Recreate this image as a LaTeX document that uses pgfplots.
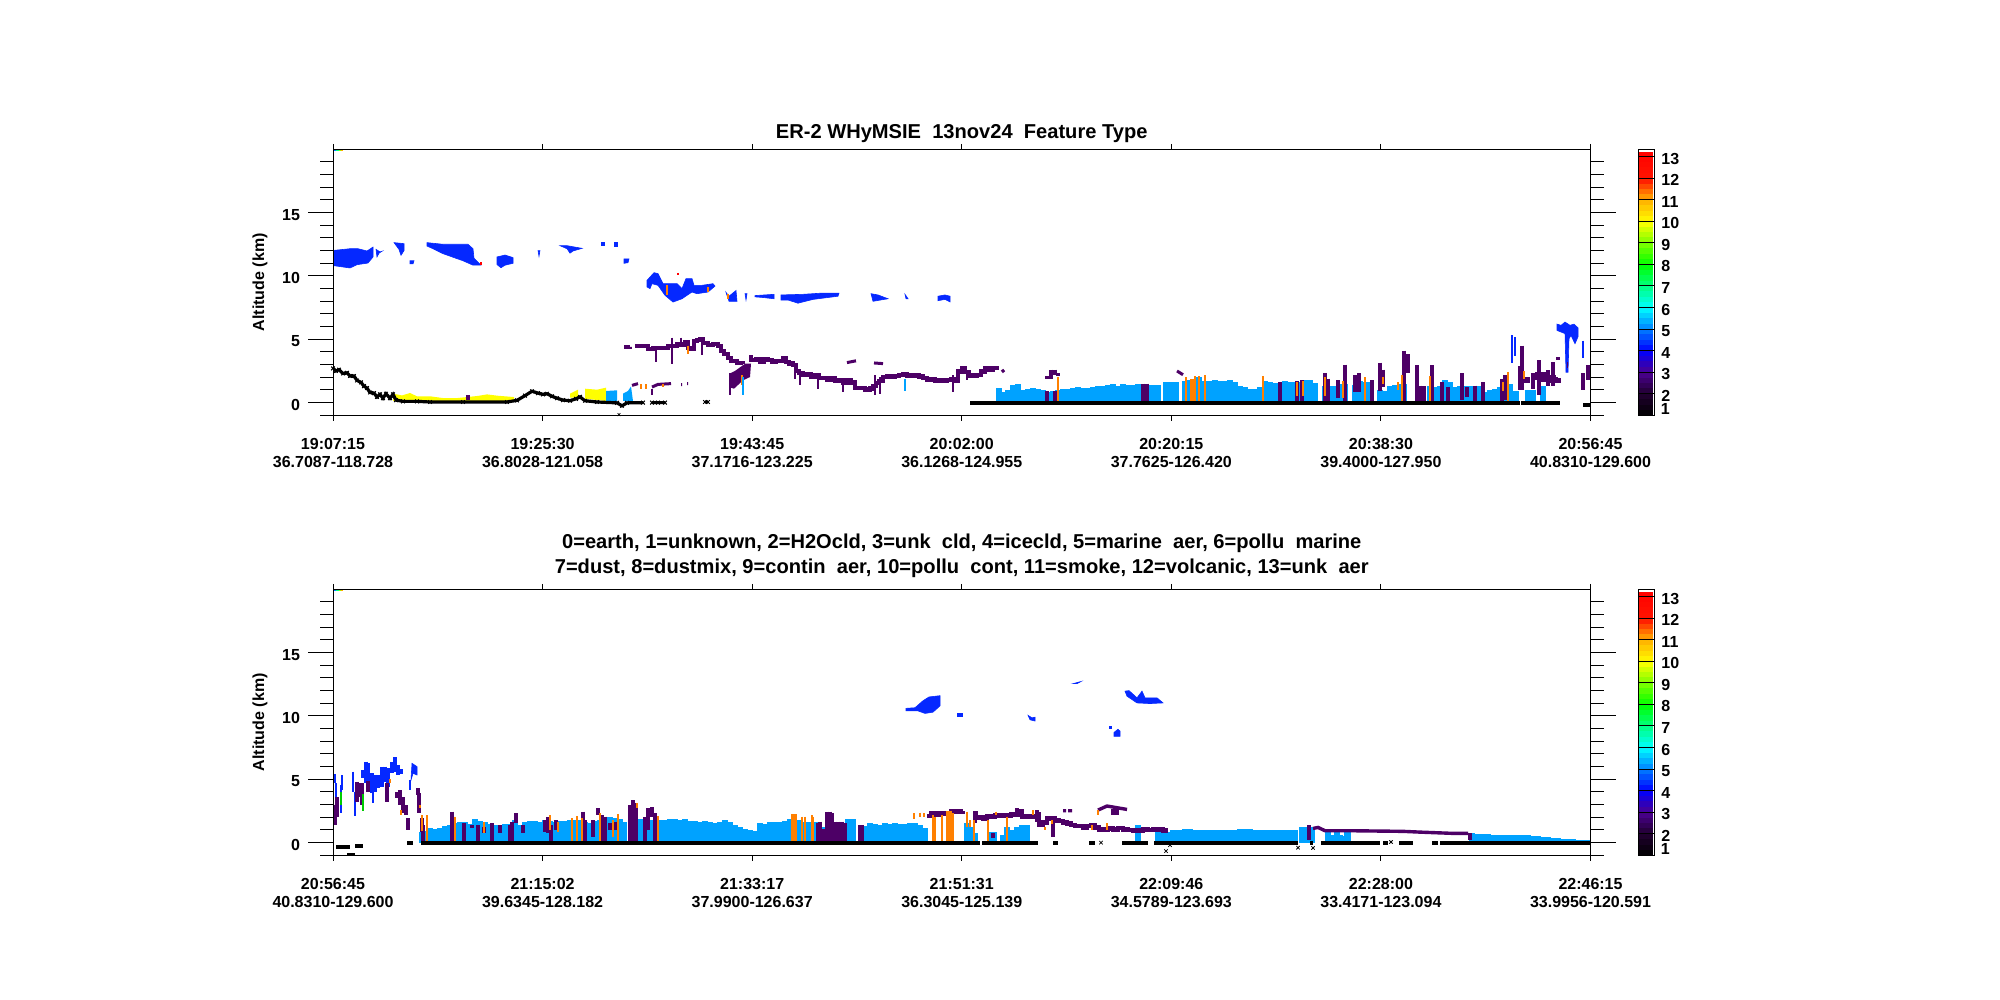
\documentclass[border=0pt]{standalone}
\usepackage{fontspec}
\setmainfont{Liberation Sans}
\usepackage{pgfplots}
\pgfplotsset{compat=1.18}

\definecolor{ice}{RGB}{5,40,255}
\definecolor{unk}{RGB}{77,0,102}
\definecolor{marine}{RGB}{0,162,255}
\definecolor{smoke}{RGB}{255,128,0}
\definecolor{pcont}{RGB}{255,255,0}
\newcommand{\lab}{\bfseries\fontsize{8}{9}\selectfont}

% 1 image pixel = 0.5pt, x is the profile index (0..1257.5), y is km
\pgfplotsset{
  colormap={ft}{rgb255(1cm)=(0,0,0); rgb255(2cm)=(34,0,50); rgb255(3cm)=(75,0,145);
    rgb255(4cm)=(0,0,255); rgb255(5cm)=(0,128,255); rgb255(6cm)=(0,255,255);
    rgb255(7cm)=(0,255,128); rgb255(8cm)=(0,255,0); rgb255(9cm)=(128,255,0);
    rgb255(10cm)=(255,255,0); rgb255(11cm)=(255,176,0); rgb255(12cm)=(255,20,0); rgb255(13.3cm)=(255,0,0)},
  panel/.style={
    width=628.75pt, height=133pt, scale only axis,
    xmin=0, xmax=1257.5, ymin=-1, ymax=20,
    xtick={0,209.58,419.17,628.75,838.33,1047.92,1257.5},
    ytick={0,5,10,15},
    minor ytick={-1,1,2,3,4,6,7,8,9,11,12,13,14,16,17,18,19},
    tick align=outside, tick pos=both,
    xticklabel pos=lower, yticklabel pos=left,
    major tick length=12.5pt, minor tick length=6.5pt,
    xtick style={/pgfplots/major tick length=2.75pt},
    tick style={black, line width=0.5pt},
    axis line style={line width=0.5pt},
    /pgf/number format/assume math mode=true,
    ticklabel style={font=\lab},
    xticklabel style={align=center, yshift=4.3pt},
    yticklabel style={xshift=-0.5pt, yshift=-1pt},
    ylabel={Altitude (km)},
    ylabel style={at={(axis description cs:-0.058,0.5)}, anchor=center, font=\lab},
    title style={font=\bfseries\fontsize{10.05}{12.5}\selectfont, align=center, anchor=center},
    colormap name=ft, point meta min=1, point meta max=13.25,
    unbounded coords=jump, clip=true, axis on top=true,
  },
  cbar/.style={
    width=8pt, height=133pt, scale only axis,
    xmin=0, xmax=1, ymin=1, ymax=13.34,
    xtick=\empty, ytick={2,...,13}, tick align=inside, ytick pos=left, yticklabel pos=right,
    major tick length=8pt, tick style={black, line width=0.5pt},
    axis line style={line width=0.5pt},
    /pgf/number format/assume math mode=true,
    ticklabel style={font=\lab},
    yticklabel style={yshift=-1pt, xshift=0pt},
    colormap name=ft, point meta min=1, point meta max=13.25,
    axis on top=true, clip=false,
  },
  cloud/.style={draw=ice, fill=ice, line width=0.3pt},
  comb/.style={ycomb, mark=none, line width=2.6pt, color=marine},
  seg/.style={mark=none, line width=#1},
  layer/.style={const plot, mark=none, line width=#1, color=unk},
}

\begin{document}
\begin{tikzpicture}
\path[use as bounding box] (0,0) rectangle (1000pt,500pt);

%---------------------------------------------------- upper panel
\begin{axis}[panel, at={(166.5pt,292.35pt)}, anchor=south west,
  title={ER-2 WHyMSIE\ \ 13nov24\ \ Feature Type},
  title style={at={(0.5,1)}, yshift=1.9pt},
  xticklabels={19:07:15\\36.7087-118.728,19:25:30\\36.8028-121.058,19:43:45\\37.1716-123.225,20:02:00\\36.1268-124.955,20:20:15\\37.7625-126.420,20:38:30\\39.4000-127.950,20:56:45\\40.8310-129.600},
]
% marine aerosol columns
\addplot[comb] coordinates {
(666,1.18)(670,.84)(675,.97)(680,1.37)(685,1.5)(690,1.03)(695,1.1)(700,1.16)(705,1.1)(710,.97)(715,.84)(720,.92)(725,.97)(730,1.05)(735,1.1)(740,1.16)(745,1.24)(750,1.16)(755,1.18)(760,1.26)(765,1.29)(770,1.32)(775,1.37)(780,1.5)(785,1.32)(790,1.5)(795,1.37)(800,1.4)(805,1.45)
(819,1.42)(825,1.37)(833,1.63)(838,1.63)(843,1.6)(852,1.71)(856,1.76)(861,1.78)(866,2)
(872,1.71)(877,1.71)(882,1.76)(887,1.71)(892,1.71)(897,1.76)(902,1.65)(907,1.34)(912,1.2)(917,1.05)(922,1.1)(927,1.2)(932,1.71)(937,1.65)(942,1.56)(947,1.5)(952,1.7)(957,1.6)(962,1.65)(967,1.65)(972,1.75)(977,1.75)(982,1.55)
(992,1.3)(997,1.3)(1002,1.3)(1007,1.45)(1012,1.5)(1022,1.4)(1027,1.7)(1032,1.65)(1037,1.6)
(1047,1)(1052,.95)(1057,1.3)(1062,1.4)(1067,1.45)(1071,1.5)(1087,1.3)(1097,1.3)(1102,1.25)(1107,1.35)(1112,1.75)(1117,1.6)
(1122,1.2)(1127,1.3)(1132,1.3)(1137,1.3)(1142,1.35)(1147,1.3)(1152,.85)(1157,1)(1162,1.1)(1167,1.2)(1172,1.4)(1177,1.5)
(1183,.9)(1195,1)(1200,1)(1210,1.3)
};
% polluted continental near the start
\addplot[draw=none, fill=pcont] coordinates {(60,.71)(69,.57)(77,.76)(84,.5)(97,.5)(110,.36)(124,.36)(144,.52)(154,.65)(164,.55)(181,.44)(181,.13)(60,.13)} --cycle;
\addplot[draw=none, fill=pcont] coordinates {(237,.71)(245,1.02)(245,.39)(237,.39)} --cycle;
\addplot[draw=none, fill=pcont] coordinates {(252,1.1)(264,1.02)(273,1.18)(273,.13)(252,.31)} --cycle;
\addplot[draw=none, fill=marine] coordinates {(273,.92)(284,.97)(284,.13)(273,.13)} --cycle;
\addplot[draw=none, fill=marine] coordinates {(290,.71)(295,.92)(298,1.28)(300,.13)(290,.13)} --cycle;
% ice clouds
\addplot[cloud] coordinates {(1,12.02)(17,12.15)(25,12.15)(34,11.97)(40,12.28)(40,11.5)(35,11.02)(24,10.89)(17,10.63)(1,10.81)} --cycle;
\addplot[cloud] coordinates {(43,12.1)(47,11.9)(49,11.95)(46,11.8)(44,11.5)} --cycle;
\addplot[cloud] coordinates {(61,12.63)(71,12.55)(71,12)(68,11.63)(66,12.1)} --cycle;
\addplot[cloud] coordinates {(77,11.2)(81,11.2)(80,10.95)(77,10.95)} --cycle;
\addplot[cloud] coordinates {(94,12.63)(110,12.5)(135,12.5)(140,12.15)(141,11.4)(148,10.85)(140,10.85)(130,11.2)(110,11.76)(100,12.15)(94,12.36)} --cycle;
\addplot[cloud] coordinates {(164,11.5)(172,11.65)(180,11.45)(180,11)(172,10.85)(168,10.65)(164,10.9)} --cycle;
\addplot[cloud] coordinates {(205,12)(206,11.55)(207,12)} --cycle;
\addplot[cloud] coordinates {(227,12.39)(234,12.39)(249,12.18)(240,11.97)(237,11.8)(234,12.15)} --cycle;
\addplot[cloud] coordinates {(268,12.65)(271,12.65)(271,12.4)(268,12.4)} --cycle;
\addplot[cloud] coordinates {(281,12.65)(284,12.65)(284,12.35)(281,12.35)} --cycle;
\addplot[cloud] coordinates {(291,11.35)(296,11.35)(295,11.05)(291,11)} --cycle;
\addplot[cloud] coordinates {(314,9.65)(321,10.26)(325,10.18)(330,9.39)(344,9.39)(349,9)(353,9.79)(359,9.79)(361,9.26)(369,9.26)(380,9.39)(382,9.2)(375,8.73)(364,8.6)(359,8.73)(354,8.47)(349,8.2)(340,7.94)(332,8.47)(325,9.26)(319,9.39)(317,9)(314,9.13)} --cycle;
\addplot[cloud] coordinates {(393,8.7)(396,8.4)(403,8.85)(404,8)(396,8)} --cycle;
\addplot[cloud] coordinates {(412,8.6)(413,8.1)(414,8.6)} --cycle;
\addplot[cloud] coordinates {(422,8.45)(441,8.55)(441,8.2)(430,8.3)(422,8.35)} --cycle;
\addplot[cloud] coordinates {(448,8.5)(470,8.55)(490,8.65)(506,8.65)(505,8.4)(480,8.15)(465,7.85)(455,8.1)(448,8.1)} --cycle;
\addplot[cloud] coordinates {(538,8.6)(545,8.5)(555,8.2)(540,8)} --cycle;
\addplot[cloud] coordinates {(572,8.55)(575,8.2)(573,8.2)} --cycle;
\addplot[cloud] coordinates {(605,8.4)(612,8.5)(617,8.4)(617,7.95)(612,8.15)(605,8.05)} --cycle;
% right hand blue columns and cloud
\addplot[cloud] coordinates {(1224,6.2)(1228,6.1)(1232,6.36)(1237,6.1)(1241,6.2)(1245,5.9)(1245,5.2)(1242,4.65)(1238,5.3)(1236,5.05)(1235,2.4)(1233,2.4)(1232,5.45)(1224,5.7)} --cycle;
\addplot[seg=1pt, color=ice] coordinates {(1179,5.3)(1179,3.1)(1179,nan)(1182,5.2)(1182,3.7)(1182,nan)(1250,4.9)(1250,3.5)};
% upper purple layer
\addplot[layer=2pt] coordinates {(291,4.36)(297,4.39)(297,nan)(302,4.44)(308,4.5)(312,4.44)(315,4.25)(320,4.35)(325,4.3)(330,4.35)(335,4.5)(340,4.45)(344,4.6)(348,4.55)(352,4.75)(355,4.35)(358,4.2)(361,4.9)(364,4.95)(367,5.05)(370,4.7)(375,4.55)(380,4.65)(385,4.5)(388,4.1)(391,3.85)(395,3.55)(398,3.25)(404,3.15)(410,3.1)};
\addplot[layer=2.2pt] coordinates {(418,3.75)(418,3.35)(423,3.4)(427,3.25)(431,3.45)(435,3.35)(439,3.2)(443,3.3)(447,3.3)(450,3.5)(453,3.2)(456,3.1)(460,2.95)(463,2.5)(466,2.35)(470,2.2)(474,2.25)(478,2.05)(482,2.15)(486,1.95)(490,1.95)(494,1.8)(498,1.9)(502,1.7)(506,1.8)(510,1.6)(514,1.75)(518,1.6)(522,1.15)(527,1.15)(532,1.05)(537,1.1)(540,1.3)(543,1.55)(546,1.7)(550,2)(554,2.1)(558,2)(562,2.1)(566,2.2)(570,2.25)(574,2.1)(578,2.2)(582,2.15)(586,2.05)(590,1.95)(594,1.8)(598,1.85)(602,1.75)(606,1.8)(610,1.7)(614,1.8)(618,1.85)(622,1.7)(625,2.45)(629,2.7)(632,2.4)(636,2.1)(640,2.15)(644,2.2)(648,2.45)(652,2.75)(656,2.6)(660,2.75)(664,2.55)};
\addplot[draw=none, fill=unk] coordinates {(397,2.3)(402,2.5)(412,3.07)(418,3.07)(417,2.02)(410,1.76)(401,1.1)(397,1.2)} --cycle;
\addplot[seg=1.5pt, color=unk] coordinates {(299,1.36)(305,1.5)(305,nan)(319,1.23)(325,1.44)(338,1.5)(338,nan)(348,1.42)(349,1.42)(349,nan)(354,1.5)(355,1.5)(355,nan)(514,3.16)(523,3.3)(523,nan)(541,3.13)(550,3.08)(550,nan)(669,2.6)(671,2.4)(671,nan)(844,2.5)(850,2.2)};
% purple columns and spikes: top, bottom, break
\addplot[seg=1pt, color=unk] coordinates {(323,4.39)(323,3.2)(323,nan)(339,5.13)(339,3.07)(339,nan)(348,5.13)(348,4.4)(348,nan)(369,4.65)(369,3.73)(369,nan)(397,2.3)(397,.6)(397,nan)(319,1.1)(319,.6)(319,nan)(462,3.08)(462,1.9)(462,nan)(467,2.55)(467,1.37)(467,nan)(485,2.03)(485,1.1)(485,nan)(510,1.76)(510,.84)(510,nan)(542,2.16)(542,.58)(542,nan)(547,2)(547,.65)(547,nan)(620,2.16)(620,.84)(620,nan)(634,2.55)(634,1.76)};
\addplot[seg=2pt, color=unk] coordinates {
(135,.6)(135,.2)(135,nan)(714,.9)(714,.1)(714,nan)(722,.9)(722,.1)(722,nan)(714,2.1)(714,1.85)(714,nan)(718,2.6)(718,1.85)(718,nan)(722,2.6)(722,2.2)(722,nan)(725,2.3)(725,2.1)(725,nan)
(810,1.5)(810,.05)(810,nan)(814,1.5)(814,.05)(814,nan)(947,1.63)(947,.05)(947,nan)(964,1.7)(964,.05)(964,nan)(969,1.75)(969,.05)(969,nan)(992,2.35)(992,.05)(992,nan)(995,1.9)(995,.05)(995,nan)(1005,1.75)(1005,.4)(1005,nan)(1012,3)(1012,.05)(1012,nan)(1022,2.15)(1022,.85)(1022,nan)(1026,2.3)(1026,.85)(1026,nan)(1039,1.75)(1039,.05)(1039,nan)(1047,3.15)(1047,.95)(1047,nan)(1050,2.6)(1050,1.2)(1050,nan)
(1071,4.1)(1071,.05)(1071,nan)(1075,3.8)(1075,2.3)(1075,nan)(1084,2.95)(1084,.05)(1084,nan)(1087,1.35)(1087,.05)(1087,nan)(1091,1.3)(1091,.05)(1091,nan)(1099,2.95)(1099,.05)(1099,nan)(1109,1.6)(1109,.05)(1109,nan)(1115,1.25)(1115,.05)(1115,nan)(1129,2.3)(1129,.2)(1129,nan)(1134,1.2)(1134,.45)(1134,nan)(1142,1.35)(1142,.05)(1142,nan)(1150,1.6)(1150,.05)(1150,nan)(1169,1.9)(1169,.05)(1169,nan)(1172,2.15)(1172,.2)(1172,nan)
(1187,2.9)(1187,1)(1187,nan)(1189,4.5)(1189,1)(1189,nan)(1200,2.3)(1200,1.1)(1200,nan)(1206,3.35)(1206,.6)(1206,nan)(1215,2.55)(1215,1.35)(1215,nan)(1220,3.2)(1220,1.35)(1220,nan)(1225,3.6)(1225,3.35)(1225,nan)(1250,2.3)(1250,1)(1250,nan)(1255,2.95)(1255,1.75)};
\addplot[layer=3pt] coordinates {(1200,2)(1205,2.2)(1210,1.85)(1215,1.95)(1220,1.8)(1225,1.95)};
\addplot[seg=3pt, color=unk] coordinates {(1190,1.8)(1197,1.8)(1197,nan)(1234,3)(1235,3)};
% smoke columns
\addplot[seg=1pt, color=smoke] coordinates {(334,9.26)(334,8.47)(334,nan)(375,9.1)(375,8.7)(375,nan)(395,8.6)(395,8.2)(395,nan)(355,4.5)(355,3.86)(355,nan)(409,2.15)(409,1.36)(409,nan)(313,1.45)(313,1.1)(313,nan)(308,1.45)(308,1.1)(308,nan)(330,1.5)(330,1.25)(330,nan)
(725,2.03)(725,.05)(725,nan)(853,2)(853,.05)(853,nan)(862,2.1)(862,.05)(862,nan)(866,2.1)(866,.05)(866,nan)(872,2.15)(872,.05)(872,nan)(930,2.07)(930,.05)(930,nan)(964,1.6)(964,.5)(964,nan)(970,1.7)(970,.5)(970,nan)(992,2)(992,.5)(992,nan)(1010,1.7)(1010,.4)(1010,nan)(1032,2)(1032,.05)(1032,nan)(1050,2)(1050,1.5)(1050,nan)(1065,1.6)(1065,1)(1065,nan)(1069,2.15)(1069,.05)(1069,nan)(1097,2.1)(1097,.05)(1097,nan)(1170,1.6)(1170,.9)(1170,nan)(1175,2.4)(1175,.05)(1175,nan)(1191,2.5)(1191,1.9)};
\addplot[seg=2.5pt, color=smoke] coordinates {(859,1.9)(859,.05)};
\addplot[seg=1pt, color=marine] coordinates {(410,2.02)(410,.57)(410,nan)(572,1.9)(572,.92)};
\addplot[seg=1pt, color=red] coordinates {(148,11.1)(148,10.85)(148,nan)(345,10.25)(345,10.1)};
% earth surface returns
\addplot[color=black, line width=1.6pt, mark=x, mark size=1.3pt, mark options={line width=.5pt}] coordinates {(0,2.7)(3,2.5)(6,2.6)(10,2.3)(14,2.35)(17,2.1)(21,2.1)(24,1.75)(28,1.6)(31,1.3)(34,1.15)(37,.8)(41,.75)(44,.45)(47,.65)(50,.35)(53,.7)(57,.35)(60,.65)(63,.2)(70,.1)(84,.1)(97,.05)(130,.05)(174,.05)(184,.18)(192,.55)(199,.9)(205,.75)(210,.65)(214,.7)(219,.5)(224,.35)(230,.2)(237,.15)(243,.3)(247,.45)(252,.15)(264,.05)(284,-.02)(289,-.25)(294,-.02)(310,0)(310,nan)(319,0)(325,0)(332,0)(332,nan)(372,0.05)(375,0.05)};
\addplot[seg=2pt, color=black] coordinates {(637,-.05)(867,-.05)(1187,-.05)(1187,nan)(1188,-.05)(1227,-.05)(1227,nan)(1250,-.2)(1257,-.2)};
\addplot[only marks, mark=x, mark size=1pt, color=black, line width=.4pt] coordinates {(286,-.95)};
\addplot[mesh, point meta=explicit, line width=.8pt] coordinates {(0,19.92)[4](3,19.92)[6](6,19.92)[8](8,19.92)[10](10,19.92)[12]};
\end{axis}

%---------------------------------------------------- lower panel
\begin{axis}[panel, at={(166.5pt,72.35pt)}, anchor=south west,
  title={0=earth, 1=unknown, 2=H2Ocld, 3=unk\ \ cld, 4=icecld, 5=marine\ \ aer, 6=pollu\ \ marine\\7=dust, 8=dustmix, 9=contin\ \ aer, 10=pollu\ \ cont, 11=smoke, 12=volcanic, 13=unk\ \ aer},
  title style={at={(0.5,1)}, yshift=10.8pt},
  xticklabels={20:56:45\\40.8310-129.600,21:15:02\\39.6345-128.182,21:33:17\\37.9900-126.637,21:51:31\\36.3045-125.139,22:09:46\\34.5789-123.693,22:28:00\\33.4171-123.094,22:46:15\\33.9956-120.591},
]
\addplot[comb] coordinates {
(89,.86)(92,.95)(97,1.13)(102,1.05)(107,1.13)(112,1.31)(117,1.39)(122,1.55)(127,1.65)(132,1.6)(137,1.5)(142,1.9)(147,1.7)(152,1.65)(157,1.5)(162,1.4)(167,1.35)(172,1.45)(177,1.5)(182,1.8)(187,1.39)(192,1.65)(197,1.7)(202,1.7)(207,1.65)(212,1.75)(217,1.7)(222,1.65)(227,1.7)(232,1.7)(237,1.8)(242,1.8)(247,1.8)(252,1.65)(257,1.55)(262,1.7)(267,1.75)(272,1.8)(277,2)(282,1.95)(287,1.85)(291,1.65)
(307,1.9)(312,1.75)(317,1.75)(322,1.75)(327,1.75)(332,1.75)(337,1.85)(342,1.9)(347,1.8)(352,1.85)(357,1.7)(362,1.7)(367,1.65)(372,1.7)(377,1.65)(382,1.55)(387,1.6)(392,1.75)(397,1.6)(402,1.4)(407,1.2)(412,1.1)(417,1)
(422,.94)(427,1.52)(432,1.47)(437,1.65)(442,1.65)(447,1.65)(452,1.7)(457,1.84)(462,1.8)(467,1.78)(472,1.65)(477,1.65)(482,1.65)(492,1.2)(515,1.9)(520,1.9)
(532,1.31)(537,1.52)(542,1.5)(547,1.4)(552,1.55)(557,1.5)(562,1.55)(567,1.5)(572,1.5)(577,1.55)(582,1.55)(587,1.4)(592,1.13)(617,1.78)
(634,1.52)(637,1.2)(642,.73)(657,.85)(661,.85)(670,.6)(674,1.26)(679,1)(684,1.26)(689,1.39)(692,1.39)(694,1.39)(805,1.39)(825,1)(830,1)(835,.8)
(840,.96)(842,.98)(847,1.02)(852,1.05)(857,1.05)(862,1.02)(867,1)(872,1)(877,.98)(882,.98)(887,.98)(892,1)(897,1.02)(902,1.03)(907,1.04)(912,1.05)(917,1.05)(922,1.03)(927,1.02)(932,1.02)(937,1)(942,1.02)(947,1.02)(952,1.02)(957,1.02)(962,1)
(969,1.2)(974,1.2)(979,1.2)(995,.9)(1000,.6)(1004,.9)(1007,.6)(1010,.5)(1014,.8)(1015,.9)
(1139,.75)(1145,.7)(1150,.7)(1155,.65)(1160,.62)(1165,.6)(1170,.6)(1175,.6)(1180,.6)(1185,.6)(1190,.6)(1195,.6)(1200,.55)(1205,.5)(1210,.45)(1215,.45)(1220,.4)(1225,.35)(1230,.3)(1235,.3)(1240,.25)(1245,.2)(1250,.2)(1255,.2)
};
% ice clouds
\addplot[cloud] coordinates {(79,6.26)(84,6)(84,5.34)(80,5.47)(78,4.94)} --cycle;
\addplot[seg=1pt, color=ice] coordinates {(2,5.4)(2,4.7)(2,nan)(3,4.7)(3,2.3)(3,nan)(8,4.55)(8,2.3)(8,nan)(9,5.3)(9,4.15)(9,nan)(20,5.6)(20,4)(20,nan)(22,4)(22,2.1)(22,nan)(40,4)(40,3.1)(40,nan)(77,4.94)(77,4.15)(77,nan)(302,2.9)(302,.05)};
\addplot[seg=1.7pt, color=ice] coordinates {(30,5.73)(30,5.07)(30,nan)(33,6.39)(33,4.68)(33,nan)(35,6.26)(35,4.81)(35,nan)(39,5.47)(39,3.89)(39,nan)(42,5.34)(42,4.02)(42,nan)(45,5.34)(45,4.28)(45,nan)(49,6)(49,4.42)(49,nan)(52,6)(52,4.81)(52,nan)(55,5.86)(55,4.42)(55,nan)(59,6.39)(59,5.47)(59,nan)(62,6.73)(62,5.6)(62,nan)(65,6.13)(65,5.34)(65,nan)(68,5.8)(68,5.4)};
\addplot[cloud] coordinates {(573,10.6)(582,10.65)(590,11.2)(596,11.5)(607,11.6)(607,10.8)(600,10.3)(592,10.2)(585,10.4)(573,10.4)} --cycle;
\addplot[cloud] coordinates {(624,10.2)(629,10.2)(629,9.97)(624,9.97)} --cycle;
\addplot[cloud] coordinates {(695,10.05)(699,9.85)(702,9.9)(702,9.6)(697,9.7)} --cycle;
\addplot[cloud] coordinates {(740,12.55)(748,12.72)(744,12.55)} --cycle;
\addplot[cloud] coordinates {(792,11.96)(796,12)(804,11.43)(809,11.96)(812,11.43)(824,11.43)(830,11.03)(817,10.98)(804,11.03)(794,11.56)} --cycle;
\addplot[cloud] coordinates {(776,9.2)(778,9.2)(778,9.05)(776,9.05)} --cycle;
\addplot[cloud] coordinates {(781,8.7)(785,8.95)(787,8.8)(787,8.39)(781,8.39)} --cycle;
% purple layer along the flight
\addplot[layer=2.2pt] coordinates {(594,2.1)(598,2.3)(602,2.2)(606,2.35)(610,2.25)(614,2.35)(618,2.45)(622,2.4)(626,2.45)(630,2.5)(630,nan)(640,2.3)(643,1.95)(647,2)(650,1.85)(654,2.05)(658,2)(662,2.2)(666,2.15)(670,2.2)(674,2.1)(678,2.25)(682,2.2)(686,2.45)(689,2.05)(693,2.1)(697,2)(701,2.1)(704,2.25)(706,1.4)(710,1.6)(714,1.9)(718,1.95)(722,1.75)(726,1.7)(730,1.6)(734,1.5)(738,1.4)(742,1.3)(746,1.3)(750,1.2)(754,1.3)(758,1.4)(762,1.2)(766,1)(770,1.05)(775,1.1)(780,1.05)(785,1.15)(790,1.05)(795,1)(800,.95)(805,.95)(810,1.05)(815,1)(820,1.05)(825,1.05)(830,.95)(835,.95)};
\addplot[seg=1.7pt, color=unk] coordinates {(765,2.57)(774,2.89)(794,2.62)(794,nan)(730,2.52)(733,2.52)(733,nan)(735,2.52)(739,2.52)(739,nan)(980,1.12)(985,1.2)(992,.94)(1017,.94)(1070,.89)(1087,.83)(1120,.73)(1135,.73)};
% purple columns
\addplot[seg=1.7pt, color=unk] coordinates {
(0,3)(0,1.4)(0,nan)(2,3)(2,1.4)(2,nan)(4,3.6)(4,2.05)(4,nan)(24,4.8)(24,3.2)(24,nan)(27,4.7)(27,3.6)(27,nan)(29,4.7)(29,3)(29,nan)(35,4.9)(35,4)(35,nan)(54,4.7)(54,3.2)(54,nan)(64,4)(64,3.5)(64,nan)(67,4.15)(67,2.97)(67,nan)(70,3.6)(70,2.3)(70,nan)(73,2.97)(73,2.18)(73,nan)(75,1.92)(75,1)(75,nan)(85,4.3)(85,3.75)(85,nan)(86,3.9)(86,2.3)(86,nan)
(89,1.92)(89,.86)(89,nan)(90,1.39)(90,.05)(90,nan)(119,2.44)(119,.05)(119,nan)(120,2.05)(120,.05)(120,nan)(131,1.52)(131,.05)(131,nan)(139,1.39)(139,1.13)(139,nan)(145,1.39)(145,.05)(145,nan)(151,1.26)(151,.73)(151,nan)(159,1.52)(159,.05)(159,nan)(167,1.39)(167,.73)(167,nan)(177,1.39)(177,.05)(177,nan)(179,1.65)(179,.05)(179,nan)(183,2.31)(183,1.52)(183,nan)(190,1.39)(190,.73)(190,nan)(212,1.78)(212,.86)(212,nan)(215,2.05)(215,.73)(215,nan)(218,1.39)(218,.05)(218,nan)(223,1.78)(223,1)(223,nan)(250,2.44)(250,.05)(250,nan)(252,1.78)(252,.05)(252,nan)(260,1.78)(260,.47)(260,nan)(265,2.7)(265,2.18)(265,nan)(269,2.18)(269,.05)(269,nan)(272,2.05)(272,.05)(272,nan)(277,1.52)(277,1)(277,nan)(282,1.65)(282,1)(282,nan)(297,2.97)(297,.05)(297,nan)(300,3.36)(300,.05)(300,nan)(303,3.1)(303,.05)(303,nan)(312,2.05)(312,.1)(312,nan)(315,2.7)(315,1)(315,nan)(319,2.78)(319,2.05)(319,nan)(322,2.31)(322,.05)(322,nan)
(485,1.52)(485,.05)(485,nan)(487,1.65)(487,.05)(487,nan)(490,1.1)(490,.05)(490,nan)(494,2.44)(494,.05)(494,nan)(497,2.44)(497,.05)(497,nan)(499,2.3)(499,.05)(499,nan)(502,1.65)(502,.05)(502,nan)(505,1.65)(505,.05)(505,nan)(509,1.65)(509,.05)(509,nan)(512,1.52)(512,.05)(512,nan)(527,1.39)(527,.05)(527,nan)(529,1.39)(529,.05)(529,nan)
(720,1.9)(720,.47)(720,nan)(704,2.57)(704,1.65)(704,nan)(684,2.7)(684,2.05)(684,nan)(642,2.3)(642,1.52)(642,nan)(660,.73)(660,.35)(660,nan)(780,2.62)(780,2.18)(780,nan)(784,2.62)(784,2.18)(784,nan)(976,1.39)(976,.2)(976,nan)(1137,.73)(1137,.2)};
% smoke
\addplot[seg=1pt, color=smoke] coordinates {
(57,5)(57,4.7)(57,nan)(68,2.57)(68,2.18)(68,nan)(87,2.97)(87,2.7)(87,nan)(89,2.18)(89,.9)(89,nan)(94,2.18)(94,.05)(94,nan)(122,2.05)(122,.05)(122,nan)(151,1.65)(151,.73)(151,nan)(217,2.18)(217,1)(217,nan)(225,1.65)(225,.86)(225,nan)(239,1.92)(239,.05)(239,nan)(244,2.1)(244,.05)(244,nan)(249,1.92)(249,.05)(249,nan)(267,2.31)(267,.05)(267,nan)(280,1.78)(280,.47)(280,nan)(285,2.23)(285,.05)(285,nan)(304,3.1)(304,2.7)(304,nan)(325,2.1)(325,.05)(325,nan)
(469,2.05)(469,.05)(469,nan)(472,2.05)(472,.05)(472,nan)(479,2.18)(479,.05)(479,nan)(480,2.05)(480,.05)(480,nan)(581,2.3)(581,1.9)(581,nan)(587,2.36)(587,2)(587,nan)(591,2.3)(591,2.05)(591,nan)(600,2.18)(600,.05)(600,nan)(602,2.05)(602,.05)(602,nan)(609,2.18)(609,.05)(609,nan)(620,2.3)(620,.05)(620,nan)(634,2.44)(634,1.26)(634,nan)(637,1.78)(637,1.26)(637,nan)(641,1.78)(641,.05)(641,nan)(655,1.78)(655,.05)(655,nan)(674,2.05)(674,.05)(674,nan)(663,2.44)(663,2.18)(663,nan)(700,2.57)(700,2.18)(700,nan)(712,1.26)(712,1)(712,nan)(765,2.57)(765,2.18)(765,nan)(719,1.78)(719,1.5)(719,nan)(759,1.39)(759,1)(759,nan)(774,1.52)(774,1)};
\addplot[seg=2.6pt, color=smoke] coordinates {(461,2.25)(461,.05)(461,nan)(616,2.52)(616,.05)};
\addplot[seg=.8pt, color=green!80!black] coordinates {(8,4)(8,3)(8,nan)(30,3.8)(30,2.5)};
% earth surface returns
\addplot[seg=2pt, color=black] coordinates {(3,-.32)(17,-.32)(17,nan)(22,-.27)(30,-.27)(30,nan)(14,-.95)(22,-.95)(22,nan)(74,0)(80,0)(80,nan)(88,0)(647,0)(647,nan)(649,0)(705,0)(705,nan)(720,0)(725,0)(725,nan)(756,0)(762,0)(762,nan)(789,0)(815,0)(815,nan)(821,0)(965,0)(965,nan)(977,0)(980,0)(980,nan)(988,0)(1047,0)(1047,nan)(1050,0)(1055,0)(1055,nan)(1066,0)(1080,0)(1080,nan)(1099,0)(1105,0)(1105,nan)(1107,0)(1257,0)};
\addplot[only marks, mark=x, mark size=1.2pt, color=black, line width=.4pt] coordinates {(768,0)(833,-.67)(965,-.4)(980,-.42)(837,-.2)(1058,.05)};
\addplot[mesh, point meta=explicit, line width=.8pt] coordinates {(0,19.92)[4](3,19.92)[6](6,19.92)[8](8,19.92)[10](10,19.92)[12]};
\end{axis}

%---------------------------------------------------- colour bars
\begin{axis}[cbar, at={(819.2pt,292.35pt)}, anchor=south west]
\addplot[mesh, point meta=y, line width=7.5pt] coordinates {(.42,1)(.42,1.25)(.42,1.5)(.42,1.75)(.42,2)(.42,2.25)(.42,2.5)(.42,2.75)(.42,3)(.42,3.25)(.42,3.5)(.42,3.75)(.42,4)(.42,4.25)(.42,4.5)(.42,4.75)(.42,5)(.42,5.25)(.42,5.5)(.42,5.75)(.42,6)(.42,6.25)(.42,6.5)(.42,6.75)(.42,7)(.42,7.25)(.42,7.5)(.42,7.75)(.42,8)(.42,8.25)(.42,8.5)(.42,8.75)(.42,9)(.42,9.25)(.42,9.5)(.42,9.75)(.42,10)(.42,10.25)(.42,10.5)(.42,10.75)(.42,11)(.42,11.25)(.42,11.5)(.42,11.75)(.42,12)(.42,12.25)(.42,12.5)(.42,12.75)(.42,13)(.42,13.22)};
\node[anchor=west, font=\lab, inner sep=0pt] at (axis cs:1.38,1.27) {1};
\end{axis}
\begin{axis}[cbar, at={(819.2pt,72.35pt)}, anchor=south west]
\addplot[mesh, point meta=y, line width=7.5pt] coordinates {(.42,1)(.42,1.25)(.42,1.5)(.42,1.75)(.42,2)(.42,2.25)(.42,2.5)(.42,2.75)(.42,3)(.42,3.25)(.42,3.5)(.42,3.75)(.42,4)(.42,4.25)(.42,4.5)(.42,4.75)(.42,5)(.42,5.25)(.42,5.5)(.42,5.75)(.42,6)(.42,6.25)(.42,6.5)(.42,6.75)(.42,7)(.42,7.25)(.42,7.5)(.42,7.75)(.42,8)(.42,8.25)(.42,8.5)(.42,8.75)(.42,9)(.42,9.25)(.42,9.5)(.42,9.75)(.42,10)(.42,10.25)(.42,10.5)(.42,10.75)(.42,11)(.42,11.25)(.42,11.5)(.42,11.75)(.42,12)(.42,12.25)(.42,12.5)(.42,12.75)(.42,13)(.42,13.22)};
\node[anchor=west, font=\lab, inner sep=0pt] at (axis cs:1.38,1.27) {1};
\end{axis}
\end{tikzpicture}
\end{document}
